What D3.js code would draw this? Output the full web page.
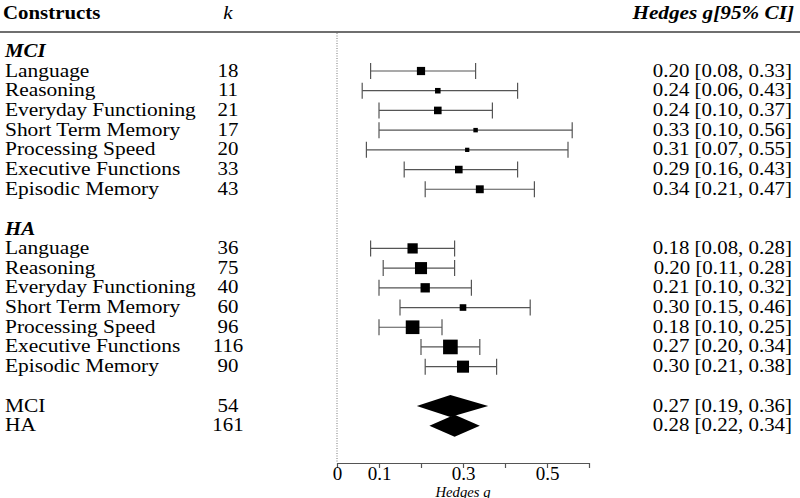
<!DOCTYPE html>
<html>
<head>
<meta charset="utf-8">
<script src="https://cdn.jsdelivr.net/npm/d3@7"></script>
<style>
  html, body { margin: 0; padding: 0; background: #fff; }
  svg { display: block; font-family: "Liberation Serif", "Times New Roman", serif; }
</style>
</head>
<body>
<svg id="chart" width="800" height="498"></svg>
<script>
// ---- Data ----
const constructs = ["Language", "Reasoning", "Everyday Functioning", "Short Term Memory",
                    "Processing Speed", "Executive Functions", "Episodic Memory"];
const mciK   = [18, 11, 21, 17, 20, 33, 43];
const mciG   = [0.20, 0.24, 0.24, 0.33, 0.31, 0.29, 0.34];
const mciLo  = [0.08, 0.06, 0.10, 0.10, 0.07, 0.16, 0.21];
const mciHi  = [0.33, 0.43, 0.37, 0.56, 0.55, 0.43, 0.47];
const haK    = [36, 75, 40, 60, 96, 116, 90];
const haG    = [0.18, 0.20, 0.21, 0.30, 0.18, 0.27, 0.30];
const haLo   = [0.08, 0.11, 0.10, 0.15, 0.10, 0.20, 0.21];
const haHi   = [0.28, 0.28, 0.32, 0.46, 0.25, 0.34, 0.38];
const summaryLabels = ["MCI", "HA"];
const summaryK  = [54, 161];
const summaryG  = [0.27, 0.28];
const summaryLo = [0.19, 0.22];
const summaryHi = [0.36, 0.34];
const groupLabels = ["MCI", "HA"];
const tickValues = [0, 0.1, 0.2, 0.3, 0.4, 0.5, 0.6];
const tickLabels = {0: "0", 0.1: "0.1", 0.3: "0.3", 0.5: "0.5"};

// ---- Rows ----
const rows = [];
rows.push({type: "group", label: groupLabels[0]});
constructs.forEach((c, i) => rows.push({type: "study", label: c, k: mciK[i], g: mciG[i], lo: mciLo[i], hi: mciHi[i]}));
rows.push({type: "blank"});
rows.push({type: "group", label: groupLabels[1]});
constructs.forEach((c, i) => rows.push({type: "study", label: c, k: haK[i], g: haG[i], lo: haLo[i], hi: haHi[i]}));
rows.push({type: "blank"});
summaryLabels.forEach((s, i) => rows.push({type: "summary", label: s, k: summaryK[i], g: summaryG[i], lo: summaryLo[i], hi: summaryHi[i]}));

const FONT = "'Liberation Serif', 'Times New Roman', serif";
const svg = d3.select("#chart");
const x = d3.scaleLinear().domain([0, 0.6]).range([337, 589]);
const y = d3.scaleLinear().domain([0, rows.length - 1]).range([51.3, 51.3 + 19.71 * (rows.length - 1)]);

const studies = rows.filter(r => r.type === "study");
const weight = r => 1 / Math.pow((r.hi - r.lo) / 3.92, 2);
const maxW = d3.max(studies, weight);
const minWidth = d3.min(studies, r => r.hi - r.lo);
const side = d3.scaleSqrt().domain([0, maxW]).range([0, 2.05 / minWidth]);

const fmt = d3.format(".2f");
const SX = 1.16;

function txt(px, py, s, o = {}) {
  return svg.append("text")
    .attr("transform", `translate(${px},${py}) scale(${o.sx || SX},1)`)
    .attr("text-anchor", o.anchor || "start")
    .attr("font-family", FONT)
    .attr("font-size", o.size || 18)
    .attr("font-weight", o.bold ? "bold" : "normal")
    .attr("font-style", o.italic ? "italic" : "normal")
    .attr("fill", "#000")
    .text(s);
}

// ---- Header ----
txt(3, 19, "Constructs", {bold: true, size: 19.5, sx: 1.07});
txt(228, 19, "k", {italic: true, size: 19.5, anchor: "middle", sx: 1.07});
txt(794, 19, "Hedges g[95% CI]", {bold: true, italic: true, size: 19.5, anchor: "end", sx: 1.09});
svg.append("line").attr("x1", 0).attr("x2", 800).attr("y1", 32).attr("y2", 32)
  .attr("stroke", "#6f6f6f").attr("stroke-width", 1.8);

// ---- Zero line ----
svg.append("line").attr("x1", x(0)).attr("x2", x(0)).attr("y1", 33).attr("y2", 463)
  .attr("stroke", "#777").attr("stroke-width", 1).attr("stroke-dasharray", "1,1.5");

// ---- Rows ----
rows.forEach((r, i) => {
  const cy = y(i);
  if (r.type === "blank") return;
  if (r.type === "group") {
    txt(5, cy + 6, r.label, {bold: true, italic: true});
    return;
  }
  txt(5, cy + 5.5, r.label, {sx: 1.19});
  txt(228, cy + 5.5, r.k, {anchor: "middle"});
  txt(792, cy + 5.5, `${fmt(r.g)} [${fmt(r.lo)}, ${fmt(r.hi)}]`, {anchor: "end"});
  if (r.type === "study") {
    const g = svg.append("g");
    g.append("line").attr("x1", x(r.lo)).attr("x2", x(r.hi)).attr("y1", cy).attr("y2", cy)
      .attr("stroke", "#555").attr("stroke-width", 1.2);
    [r.lo, r.hi].forEach(v => g.append("line").attr("x1", x(v)).attr("x2", x(v))
      .attr("y1", cy - 8).attr("y2", cy + 8).attr("stroke", "#555").attr("stroke-width", 1.2));
    const s = side(weight(r));
    g.append("rect").attr("x", x(r.g) - s / 2).attr("y", cy - s / 2)
      .attr("width", s).attr("height", s).attr("fill", "#000");
  } else {
    const h = 11;
    svg.append("path")
      .attr("d", `M${x(r.lo)},${cy}L${x(r.g)},${cy - h}L${x(r.hi)},${cy}L${x(r.g)},${cy + h}Z`)
      .attr("fill", "#000");
  }
});

// ---- Axis ----
const axis = d3.axisBottom(x).tickValues(tickValues).tickSize(5).tickSizeOuter(0).tickPadding(-1.5)
  .tickFormat(d => tickLabels[d] !== undefined ? tickLabels[d] : "");
const ag = svg.append("g").attr("transform", "translate(0,463)").call(axis);
ag.attr("font-family", FONT);
ag.select(".domain").attr("stroke", "#555").attr("stroke-width", 1.2);
ag.selectAll(".tick line").attr("stroke", "#555").attr("stroke-width", 1.2);
ag.selectAll(".tick text").attr("font-size", 19).attr("fill", "#000").attr("font-family", FONT);
txt(x(0.3), 496.5, "Hedges g", {italic: true, size: 14, anchor: "middle", sx: 1.05});
</script>
</body>
</html>
